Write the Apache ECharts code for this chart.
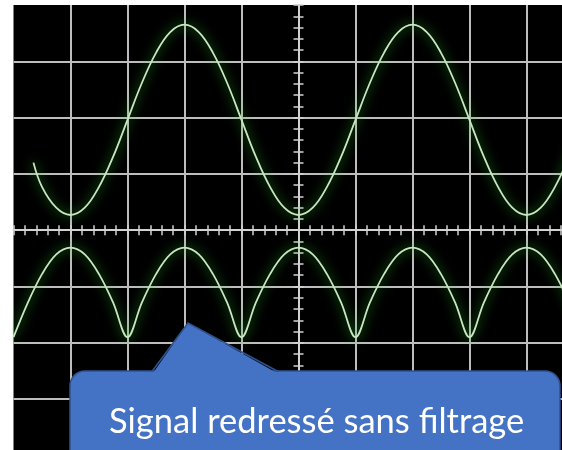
<!DOCTYPE html>
<html>
<head>
<meta charset="utf-8">
<script src="https://cdn.jsdelivr.net/npm/echarts@6/dist/echarts.min.js"></script>
<style>
html,body{margin:0;padding:0;background:#fff;}
#c{width:562px;height:450px;}
</style>
</head>
<body>
<div id="c"></div>
<script>
// Horizontal positions in screen divisions (-5..5), vertical in divisions (-4..4)
var xTop = [-4.65,-4.5,-4.25,-4,-3.75,-3.5,-3.25,-3,-2.75,-2.5,-2.25,-2,-1.75,-1.5,-1.25,-1,-0.75,-0.5,-0.25,0,0.25,0.5,0.75,1,1.25,1.5,1.75,2,2.25,2.5,2.75,3,3.25,3.5,3.75,4,4.25,4.5,4.75,5];
var yTop = [1.20,0.77,0.40,0.27,0.40,0.77,1.31,1.96,2.61,3.15,3.52,3.65,3.52,3.15,2.61,1.96,1.31,0.77,0.40,0.27,0.40,0.77,1.31,1.96,2.61,3.15,3.52,3.65,3.52,3.15,2.61,1.96,1.31,0.77,0.40,0.27,0.40,0.77,1.31,1.96];
var xBottom = [-5,-4.75,-4.5,-4.25,-4,-3.75,-3.5,-3.25,-3,-2.75,-2.5,-2.25,-2,-1.75,-1.5,-1.25,-1,-0.75,-0.5,-0.25,0,0.25,0.5,0.75,1,1.25,1.5,1.75,2,2.25,2.5,2.75,3,3.25,3.5,3.75,4,4.25,4.5,4.75,5];
var yBottom = [-1.90,-1.29,-0.78,-0.43,-0.31,-0.43,-0.78,-1.29,-1.90,-1.29,-0.78,-0.43,-0.31,-0.43,-0.78,-1.29,-1.90,-1.29,-0.78,-0.43,-0.31,-0.43,-0.78,-1.29,-1.90,-1.29,-0.78,-0.43,-0.31,-0.43,-0.78,-1.29,-1.90,-1.29,-0.78,-0.43,-0.31,-0.43,-0.78,-1.29,-1.90];
var calloutText = 'Signal redressé sans filtrage';

function zip(xs, ys){ return xs.map(function(x,i){ return [x, ys[i]]; }); }

var gridColor = '#bdbdbd';
var axisColor = '#d2d2d2';
var tickStyle = {show:true, length:5, lineStyle:{color:axisColor, width:1.5}};
var minorStyle = {show:true, splitNumber:5, length:5, lineStyle:{color:axisColor, width:1.5}};

function xAx(pos){
  return {type:'value', min:-5, max:5, interval:1, position:pos,
    axisLine:{show:true, onZero:true, lineStyle:{color:axisColor, width:2}},
    axisTick:tickStyle, minorTick:minorStyle, axisLabel:{show:false},
    splitLine:{show: pos==='bottom', showMinLine:false, showMaxLine:false, lineStyle:{color:gridColor, width:2}}};
}
function yAx(pos){
  return {type:'value', min:-4, max:4, interval:1, position:pos,
    axisLine:{show:true, onZero:true, lineStyle:{color:axisColor, width:2}},
    axisTick:tickStyle, minorTick:minorStyle, axisLabel:{show:false},
    splitLine:{show: pos==='left', showMinLine:false, showMaxLine:false, lineStyle:{color:gridColor, width:2}}};
}

var lineStyle = {color:'#c8e6bf', width:1.8, shadowBlur:11, shadowColor:'rgba(50,200,50,1)'};

var chart = echarts.init(document.getElementById('c'), null, {renderer:'canvas'});
chart.setOption({
  animation:false,
  backgroundColor:'#ffffff',
  grid:{left:13.5, top:5, width:570, height:450.4, outerBoundsMode:'none', containLabel:false, show:true, backgroundColor:'#000', borderWidth:0},
  xAxis:[xAx('bottom'), xAx('top')],
  yAxis:[yAx('left'), yAx('right')],
  series:[
    {type:'line', data:zip(xTop,yTop), smooth:0.4, showSymbol:false, lineStyle:lineStyle, z:3},
    {type:'line', data:zip(xBottom,yBottom), smooth:0.35, showSymbol:false, lineStyle:lineStyle, z:3}
  ],
  graphic:[
    {type:'rect', z:100, shape:{x:70, y:371, width:490, height:110, r:15}, style:{fill:'#4472C4', stroke:'#2F528F', lineWidth:1.5}},
    {type:'polygon', z:101, shape:{points:[[153,373],[188,323],[277,373]]}, style:{fill:'#4472C4'}},
    {type:'polyline', z:102, shape:{points:[[152,371.5],[188,323],[278,371.5]]}, style:{stroke:'#2F528F', lineWidth:1.5, fill:null}},
    {type:'text', z:103, x:109, y:421.5, style:{text:calloutText, fill:'#ffffff', font:'34.5px Lato', verticalAlign:'middle', align:'left'}}
  ]
});
</script>
</body>
</html>
